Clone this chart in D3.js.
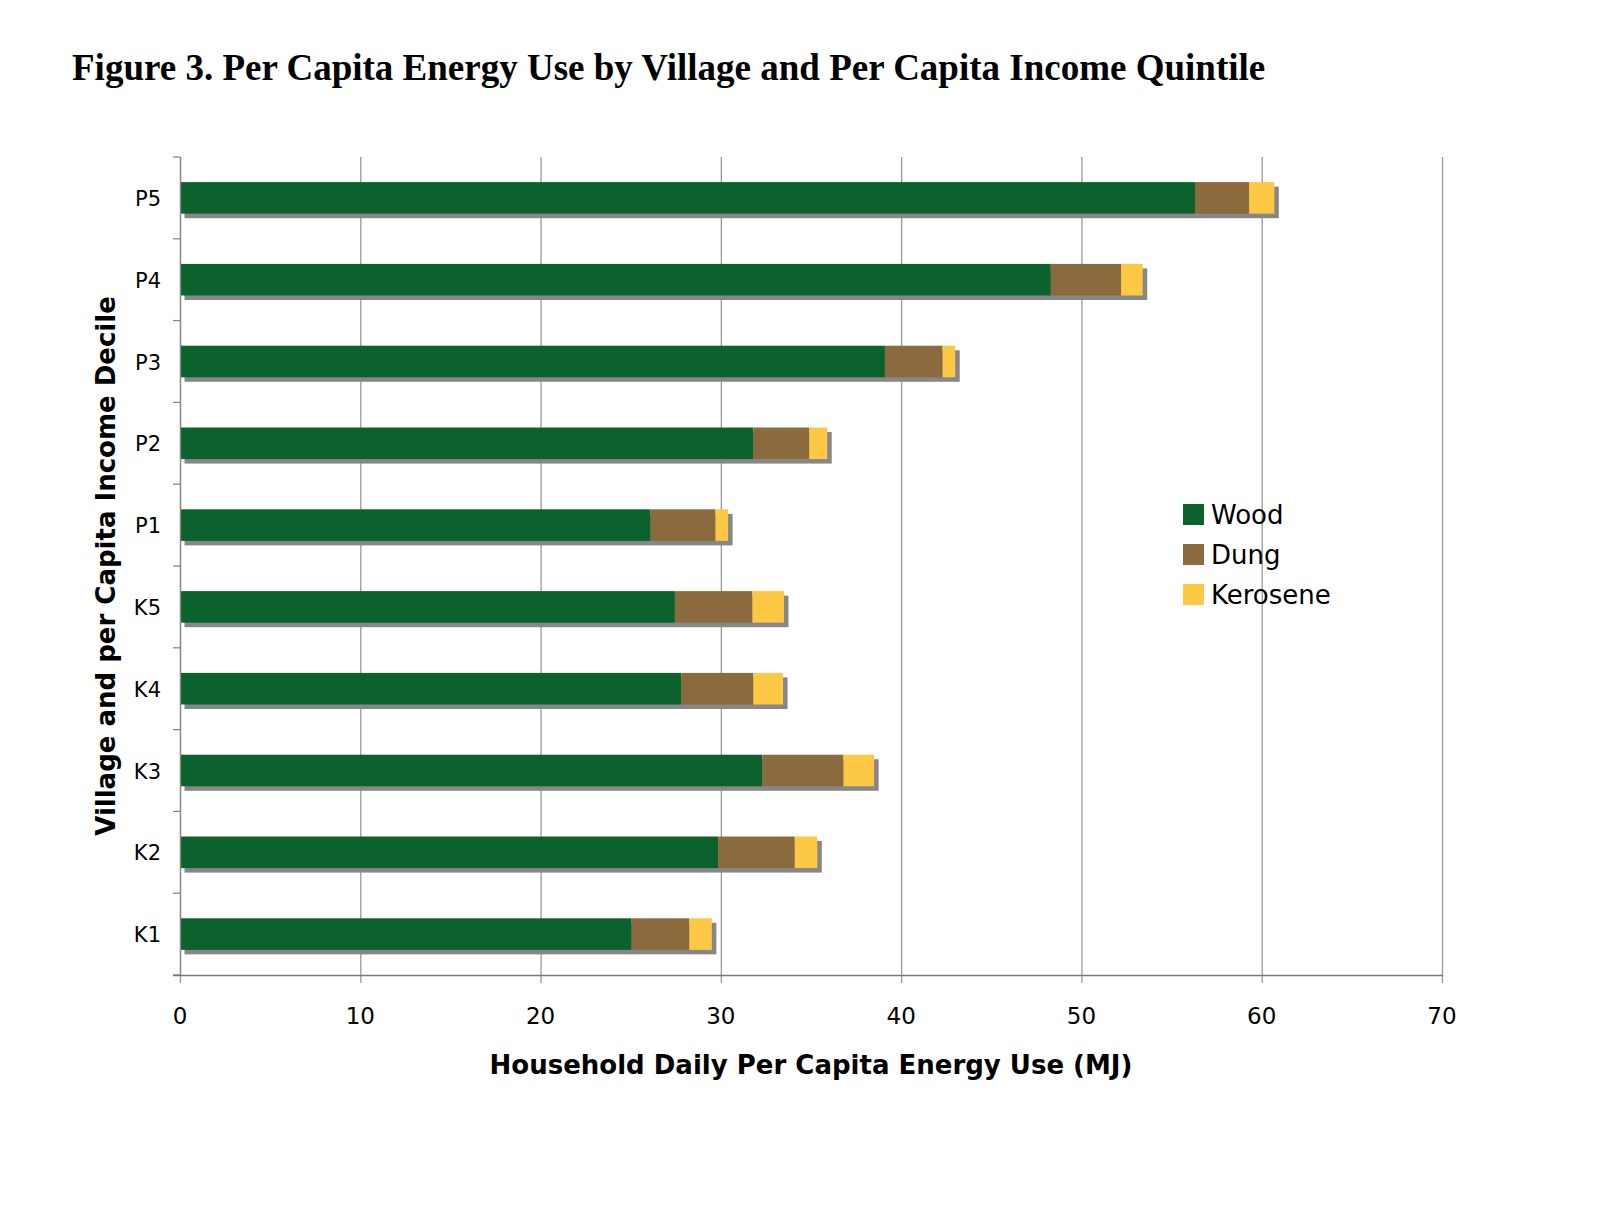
<!DOCTYPE html>
<html>
<head>
<meta charset="utf-8">
<script src="https://cdn.jsdelivr.net/npm/d3@7"></script>
<style>
  body { margin: 0; background: #fff; }
  svg { display: block; }
</style>
</head>
<body>
<svg id="chart" width="1600" height="1219"></svg>
<script>
// categories from bottom to top
var categories = ['K1', 'K2', 'K3', 'K4', 'K5', 'P1', 'P2', 'P3', 'P4', 'P5'];

// series values (MJ per capita per day)
var wood     = [25.05, 29.85, 32.3, 27.8, 27.45, 26.1, 31.8, 39.1, 48.3, 56.3];
var dung     = [3.2,   4.25,  4.5,  4.0,  4.3,   3.6,  3.1,  3.2,  3.9,  3.0];
var kerosene = [1.25,  1.25,  1.7,  1.65, 1.75,  0.7,  1.0,  0.7,  1.2,  1.4];

var seriesNames = ['Wood', 'Dung', 'Kerosene'];
var xTicks = [0, 10, 20, 30, 40, 50, 60, 70];

var colors = {
  Wood: '#0b622c',
  Dung: '#8b6b3e',
  Kerosene: '#fdc843'
};

(function () {

  // build rows for the stack
  var rows = categories.map(function (c, i) {
    return { cat: c, Wood: wood[i], Dung: dung[i], Kerosene: kerosene[i] };
  });

  var svg = d3.select('#chart');

  var plotLeft = 180, plotRight = 1442, plotTop = 157, plotBottom = 975;

  var x = d3.scaleLinear()
    .domain([0, 70])
    .range([plotLeft, plotRight]);

  // top category first
  var y = d3.scaleBand()
    .domain(categories.slice().reverse())
    .range([plotTop, plotBottom])
    .paddingInner(0.614)
    .paddingOuter(0.307);

  var step = y.step();

  // title
  svg.append('text')
    .attr('x', 72)
    .attr('y', 80)
    .attr('font-family', 'Liberation Serif')
    .attr('font-weight', 'bold')
    .attr('font-size', '37px')
    .attr('fill', '#000')
    .text('Figure 3. Per Capita Energy Use by Village and Per Capita Income Quintile');

  // vertical gridlines
  svg.append('g')
    .selectAll('line')
    .data(xTicks)
    .enter()
    .append('line')
    .attr('x1', function (d) { return x(d) + 0.5; })
    .attr('x2', function (d) { return x(d) + 0.5; })
    .attr('y1', plotTop)
    .attr('y2', plotBottom + 8)
    .attr('stroke', '#999')
    .attr('stroke-width', 1.3);

  // y axis ticks at band boundaries
  var bounds = d3.range(categories.length + 1).map(function (i) { return plotTop + i * step; });
  svg.append('g')
    .selectAll('line')
    .data(bounds)
    .enter()
    .append('line')
    .attr('x1', plotLeft - 7)
    .attr('x2', plotLeft)
    .attr('y1', function (d) { return d; })
    .attr('y2', function (d) { return d; })
    .attr('stroke', '#888')
    .attr('stroke-width', 1.3);

  // stacked series
  var stack = d3.stack().keys(seriesNames);
  var layers = stack(rows);

  // shadows behind each whole bar
  svg.append('g')
    .selectAll('rect')
    .data(rows)
    .enter()
    .append('rect')
    .attr('x', x(0) + 4.5)
    .attr('y', function (d) { return y(d.cat) + 4.5; })
    .attr('width', function (d) { return x(d.Wood + d.Dung + d.Kerosene) - x(0); })
    .attr('height', y.bandwidth())
    .attr('fill', '#878787');

  svg.append('g')
    .selectAll('g')
    .data(layers)
    .enter()
    .append('g')
    .attr('fill', function (d) { return colors[d.key]; })
    .selectAll('rect')
    .data(function (d) { return d; })
    .enter()
    .append('rect')
    .attr('x', function (d) { return x(d[0]); })
    .attr('y', function (d) { return y(d.data.cat); })
    .attr('width', function (d) { return x(d[1]) - x(d[0]); })
    .attr('height', y.bandwidth());

  // y axis line
  svg.append('line')
    .attr('x1', plotLeft + 0.5)
    .attr('x2', plotLeft + 0.5)
    .attr('y1', plotTop)
    .attr('y2', plotBottom)
    .attr('stroke', '#888')
    .attr('stroke-width', 1.3);

  // x axis line
  svg.append('line')
    .attr('x1', plotLeft - 7)
    .attr('x2', plotRight + 1)
    .attr('y1', plotBottom + 0.5)
    .attr('y2', plotBottom + 0.5)
    .attr('stroke', '#777')
    .attr('stroke-width', 1.3);

  // x tick labels
  svg.append('g')
    .selectAll('text')
    .data(xTicks)
    .enter()
    .append('text')
    .attr('x', function (d) { return x(d); })
    .attr('y', 1024)
    .attr('text-anchor', 'middle')
    .attr('font-family', 'DejaVu Sans')
    .attr('font-size', '23px')
    .attr('fill', '#000')
    .text(function (d) { return d; });

  // y tick labels
  svg.append('g')
    .selectAll('text')
    .data(categories)
    .enter()
    .append('text')
    .attr('x', 161)
    .attr('y', function (d) { return y(d) + y.bandwidth() / 2 + 8; })
    .attr('text-anchor', 'end')
    .attr('font-family', 'DejaVu Sans')
    .attr('font-size', '21px')
    .attr('fill', '#000')
    .text(function (d) { return d; });

  // axis titles
  svg.append('text')
    .attr('x', (plotLeft + plotRight) / 2)
    .attr('y', 1074)
    .attr('text-anchor', 'middle')
    .attr('font-family', 'DejaVu Sans')
    .attr('font-weight', 'bold')
    .attr('font-size', '26px')
    .attr('fill', '#000')
    .text('Household Daily Per Capita Energy Use (MJ)');

  svg.append('text')
    .attr('transform', 'translate(115,' + (plotTop + plotBottom) / 2 + ') rotate(-90)')
    .attr('text-anchor', 'middle')
    .attr('font-family', 'DejaVu Sans')
    .attr('font-weight', 'bold')
    .attr('font-size', '26px')
    .attr('fill', '#000')
    .text('Village and per Capita Income Decile');

  // legend
  var legend = svg.append('g')
    .attr('transform', 'translate(1183,504)');

  var item = legend.selectAll('g')
    .data(seriesNames)
    .enter()
    .append('g')
    .attr('transform', function (d, i) { return 'translate(0,' + i * 40 + ')'; });

  item.append('rect')
    .attr('width', 21)
    .attr('height', 21)
    .attr('fill', function (d) { return colors[d]; });

  item.append('text')
    .attr('x', 28)
    .attr('y', 20)
    .attr('font-family', 'DejaVu Sans')
    .attr('font-size', '26px')
    .attr('fill', '#000')
    .text(function (d) { return d; });
})();
</script>
</body>
</html>
